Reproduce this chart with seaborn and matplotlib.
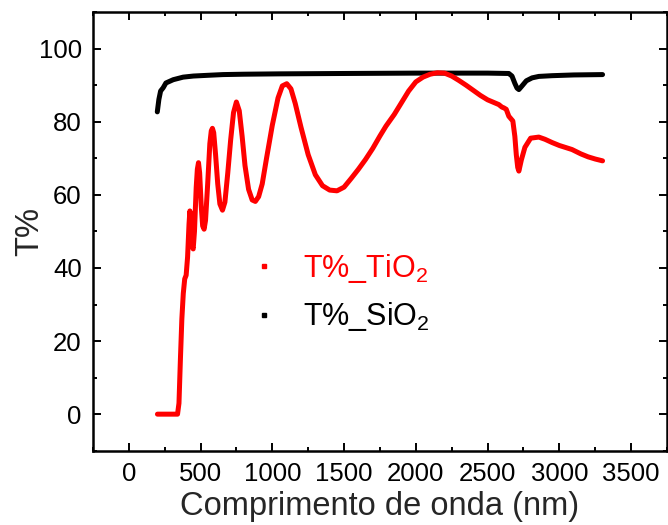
import numpy as np
import pandas as pd
import matplotlib
matplotlib.use("Agg")
import matplotlib.pyplot as plt
from matplotlib.lines import Line2D
from matplotlib.ticker import MultipleLocator
import seaborn as sns

# ---- data ----
tio2_wl = [200, 250, 300, 340, 350, 360, 370, 380, 390, 400, 410, 420, 426, 432, 440, 449,
           458, 470, 478, 486, 494, 505, 515, 525, 535, 550, 565, 575, 583, 592, 605, 620,
           635, 653, 670, 690, 710, 730, 750, 770, 790, 810, 835, 860, 882, 905, 930, 960,
           1000, 1040, 1070, 1101, 1130, 1160, 1200, 1250, 1300, 1350, 1400, 1451, 1500,
           1550, 1600, 1650, 1700, 1750, 1792, 1850, 1900, 1950, 2000, 2050, 2100, 2150,
           2200, 2250, 2300, 2350, 2393, 2450, 2500, 2578, 2600, 2613, 2630, 2648, 2676,
           2690, 2700, 2710, 2718, 2735, 2760, 2800, 2857, 2900, 2950, 3000, 3088, 3150,
           3200, 3250, 3301]
tio2_t = [0, 0, 0, 0, 3, 15, 26, 33, 37, 38, 43, 52, 55.6, 52, 46, 45.2,
          50, 62, 67, 68.8, 66, 57, 51.5, 50.6, 53, 63, 74, 77.5, 78.2, 77, 71, 63,
          57.5, 55.8, 58, 66, 75, 82.5, 85.4, 83, 76, 68, 61.5, 58.6, 58.2, 59.5, 63, 70,
          79, 86.5, 89.8, 90.4, 89, 85, 78.5, 71, 65.5, 62.5, 61.3, 61.1, 62.1,
          64.5, 67, 69.7, 72.7, 76.1, 78.8, 82, 85.2, 88.4, 90.9, 92.2, 93, 93.4,
          93.3, 92.5, 91.3, 90, 88.8, 87.2, 86, 84.7, 84, 83.8, 83.4, 81.5, 80.2,
          76, 71, 67.5, 66.5, 69.5, 73, 75.5, 75.8, 75.2, 74.3, 73.5, 72.4, 71.2,
          70.4, 69.8, 69.3]

sio2_wl = [199, 210, 222, 240, 259, 310, 379, 450, 550, 657, 800, 1051, 1500, 2000, 2500,
           2648, 2670, 2690, 2705, 2718, 2740, 2770, 2810, 2857, 2950, 3100, 3301]
sio2_t = [82.7, 86.1, 88.4, 89.3, 90.6, 91.5, 92.2, 92.5, 92.7, 92.9, 93.0, 93.1, 93.2, 93.3, 93.3,
          93.2, 92.5, 90.5, 89.2, 88.8, 89.8, 91.2, 92.0, 92.4, 92.6, 92.8, 92.9]

labels = ["T%_TiO$_2$", "T%_SiO$_2$"]
colors = ["#ff0000", "#000000"]

x_ticks = [0, 500, 1000, 1500, 2000, 2500, 3000, 3500]
y_ticks = [0, 20, 40, 60, 80, 100]

# ---- style ----
sns.set_style("ticks")
plt.rcParams["font.family"] = ["Liberation Sans", "DejaVu Sans"]
plt.rcParams["mathtext.fontset"] = "custom"
plt.rcParams["mathtext.rm"] = "Liberation Sans"
plt.rcParams["mathtext.it"] = "Liberation Sans:italic"
plt.rcParams["mathtext.bf"] = "Liberation Sans:bold"

fig = plt.figure(figsize=(6.68, 5.25), dpi=100)
ax = fig.add_axes([0.139, 0.1415, 0.8595, 0.8355])

df_t = pd.DataFrame({"wl": tio2_wl, "T": tio2_t})
df_s = pd.DataFrame({"wl": sio2_wl, "T": sio2_t})

sns.lineplot(data=df_s, x="wl", y="T", ax=ax, color=colors[1], lw=3.6, sort=False,
             estimator=None)
sns.lineplot(data=df_t, x="wl", y="T", ax=ax, color=colors[0], lw=3.6, sort=False,
             estimator=None)

ax.set_xlim(-250, 3750)
ax.set_ylim(-10, 110)
ax.set_xticks(x_ticks)
ax.set_yticks(y_ticks)
ax.xaxis.set_minor_locator(MultipleLocator(250))
ax.yaxis.set_minor_locator(MultipleLocator(10))
ax.tick_params(which="both", direction="in", top=True, right=True, width=1.4,
               labelsize=18.5, pad=8, colors="black")
ax.tick_params(which="major", length=6)
ax.tick_params(which="minor", length=3)
ax.tick_params(axis="x", labeltop=False)
ax.tick_params(axis="y", labelright=False)
for s in ax.spines.values():
    s.set_linewidth(1.8)
    s.set_color("black")

ax.set_xlabel("Comprimento de onda (nm)", fontsize=23.5, labelpad=4)
ax.set_ylabel("T%", fontsize=23.5, labelpad=-5)

handles = [Line2D([], [], ls="none", marker="s", ms=3.5, color=c, mec=c) for c in colors]
leg = ax.legend(handles, labels, loc="center left", bbox_to_anchor=(0.223, 0.36),
                frameon=False, fontsize=22, handlelength=1.0, handletextpad=0.8,
                labelspacing=0.5)
for t, c in zip(leg.get_texts(), colors):
    t.set_color(c)

fig.savefig("out.png", dpi=100)
